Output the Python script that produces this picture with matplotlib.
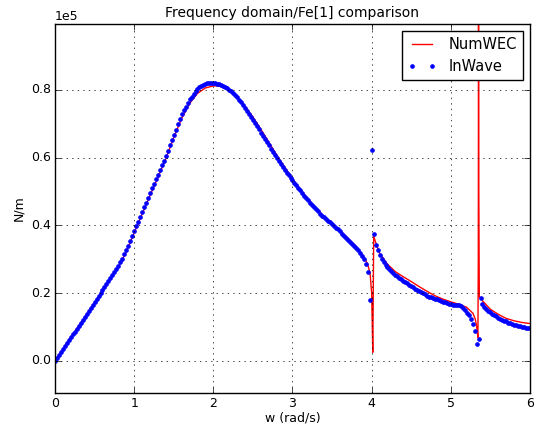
import numpy as np
import matplotlib
matplotlib.use('Agg')
import matplotlib.pyplot as plt

SCALE = 1e5  # values below are in units of 1e5 N/m

# InWave samples, regular grid from 0 to 6 rad/s, step 0.025
inwave_v = [
    0.000, 0.009, 0.017, 0.026, 0.035, 0.043, 0.052, 0.060,
    0.069, 0.078, 0.086, 0.095, 0.104, 0.112, 0.121, 0.129,
    0.138, 0.147, 0.155, 0.164, 0.173, 0.182, 0.191, 0.200,
    0.209, 0.218, 0.226, 0.235, 0.244, 0.252, 0.261, 0.270,
    0.280, 0.291, 0.302, 0.314, 0.326, 0.340, 0.354, 0.368,
    0.383, 0.397, 0.411, 0.426, 0.440, 0.454, 0.467, 0.481,
    0.495, 0.509, 0.522, 0.536, 0.550, 0.564, 0.578, 0.591,
    0.605, 0.621, 0.637, 0.652, 0.668, 0.683, 0.698, 0.713,
    0.728, 0.740, 0.751, 0.762, 0.772, 0.780, 0.788, 0.796,
    0.803, 0.808, 0.812, 0.816, 0.819, 0.821, 0.822, 0.822,
    0.822, 0.821, 0.819, 0.817, 0.815, 0.813, 0.810, 0.806,
    0.801, 0.796, 0.791, 0.785, 0.778, 0.771, 0.763, 0.755,
    0.747, 0.738, 0.729, 0.720, 0.711, 0.702, 0.693, 0.684,
    0.674, 0.665, 0.656, 0.646, 0.637, 0.627, 0.618, 0.608,
    0.599, 0.590, 0.581, 0.572, 0.564, 0.556, 0.548, 0.540,
    0.533, 0.525, 0.518, 0.510, 0.503, 0.495, 0.488, 0.481,
    0.474, 0.467, 0.460, 0.453, 0.447, 0.441, 0.435, 0.429,
    0.424, 0.419, 0.414, 0.409, 0.404, 0.399, 0.393, 0.388,
    0.382, 0.375, 0.369, 0.363, 0.357, 0.352, 0.346, 0.340,
    0.334, 0.327, 0.319, 0.310, 0.301, 0.286, 0.263, 0.180,
    0.622, 0.375, 0.343, 0.326, 0.313, 0.302, 0.292, 0.284,
    0.277, 0.270, 0.264, 0.258, 0.253, 0.249, 0.245, 0.241,
    0.237, 0.233, 0.229, 0.225, 0.221, 0.217, 0.213, 0.210,
    0.206, 0.202, 0.199, 0.196, 0.192, 0.189, 0.187, 0.185,
    0.183, 0.181, 0.179, 0.177, 0.175, 0.173, 0.171, 0.169,
    0.167, 0.166, 0.165, 0.164, 0.164, 0.162, 0.157, 0.150,
    0.142, 0.135, 0.124, 0.108, 0.089, 0.050, 0.064, 0.186,
    0.167, 0.159, 0.153, 0.148, 0.143, 0.139, 0.135, 0.131,
    0.127, 0.124, 0.121, 0.118, 0.116, 0.113, 0.111, 0.109,
    0.107, 0.105, 0.104, 0.102, 0.101, 0.099, 0.098, 0.097,
    0.096,
]
inwave_w = np.linspace(0, 6, len(inwave_v))

# NumWEC curve, read at irregular frequencies
numwec_w = [0.0, 0.2, 0.4, 0.6, 0.8, 0.9, 1.0, 1.1, 1.2, 1.3, 1.4, 1.5, 1.6,
            1.7, 1.8, 1.9, 2.0, 2.05, 2.1, 2.2, 2.3, 2.4, 2.5, 2.6, 2.7, 2.8,
            2.9, 3.0, 3.1, 3.2, 3.3, 3.4, 3.5, 3.6, 3.7, 3.8, 3.9, 3.95, 3.98,
            4.0, 4.008, 4.014, 4.02, 4.026, 4.05, 4.1, 4.2, 4.3, 4.4, 4.5,
            4.6, 4.7, 4.8, 4.9, 5.0, 5.1, 5.2, 5.28, 5.31, 5.33, 5.342,
            5.347, 5.35, 5.353, 5.36, 5.4, 5.5, 5.6, 5.7, 5.8, 5.9, 6.0]
numwec_v = [0.000, 0.069, 0.137, 0.206, 0.276, 0.322, 0.378, 0.433, 0.488,
            0.542, 0.597, 0.659, 0.716, 0.760, 0.790, 0.806, 0.812, 0.812,
            0.810, 0.798, 0.778, 0.752, 0.720, 0.684, 0.646, 0.608, 0.572,
            0.538, 0.506, 0.477, 0.450, 0.426, 0.405, 0.385, 0.362, 0.339,
            0.308, 0.285, 0.258, 0.200, 0.100, 0.025, 0.200, 0.368, 0.350,
            0.318, 0.285, 0.263, 0.248, 0.234, 0.219, 0.205, 0.192, 0.182,
            0.174, 0.167, 0.158, 0.140, 0.122, 0.095, 0.069, 0.300, 1.050,
            0.500, 0.190, 0.177, 0.152, 0.137, 0.125, 0.118, 0.113, 0.110]

plt.style.use('classic')
fig = plt.figure(figsize=(5.36, 4.28), dpi=100, facecolor='white')
ax = fig.add_axes([0.1026, 0.082, 0.8862, 0.862])

ax.plot(numwec_w, np.array(numwec_v) * SCALE, 'r-', lw=1.0, label='NumWEC')
ax.plot(inwave_w, np.array(inwave_v) * SCALE, 'b.', ms=5.5, mec='b',
        label='InWave')

ax.set_xlim(0, 6)
ax.set_ylim(-0.095 * SCALE, 0.995 * SCALE)
ax.set_yticks(np.array([0.0, 0.2, 0.4, 0.6, 0.8]) * SCALE)
ax.ticklabel_format(axis='y', style='sci', scilimits=(5, 5))
ax.yaxis.get_offset_text().set_fontsize(9)
ax.tick_params(labelsize=9, pad=3)
ax.grid(True)

ax.set_title('Frequency domain/Fe[1] comparison', fontsize=10)
ax.set_xlabel('w (rad/s)', fontsize=9, labelpad=1)
ax.set_ylabel('N/m', fontsize=9, labelpad=4)
ax.legend(loc='upper right', numpoints=2, fontsize=10.5)

fig.savefig('out.png', dpi=100, facecolor='white')
